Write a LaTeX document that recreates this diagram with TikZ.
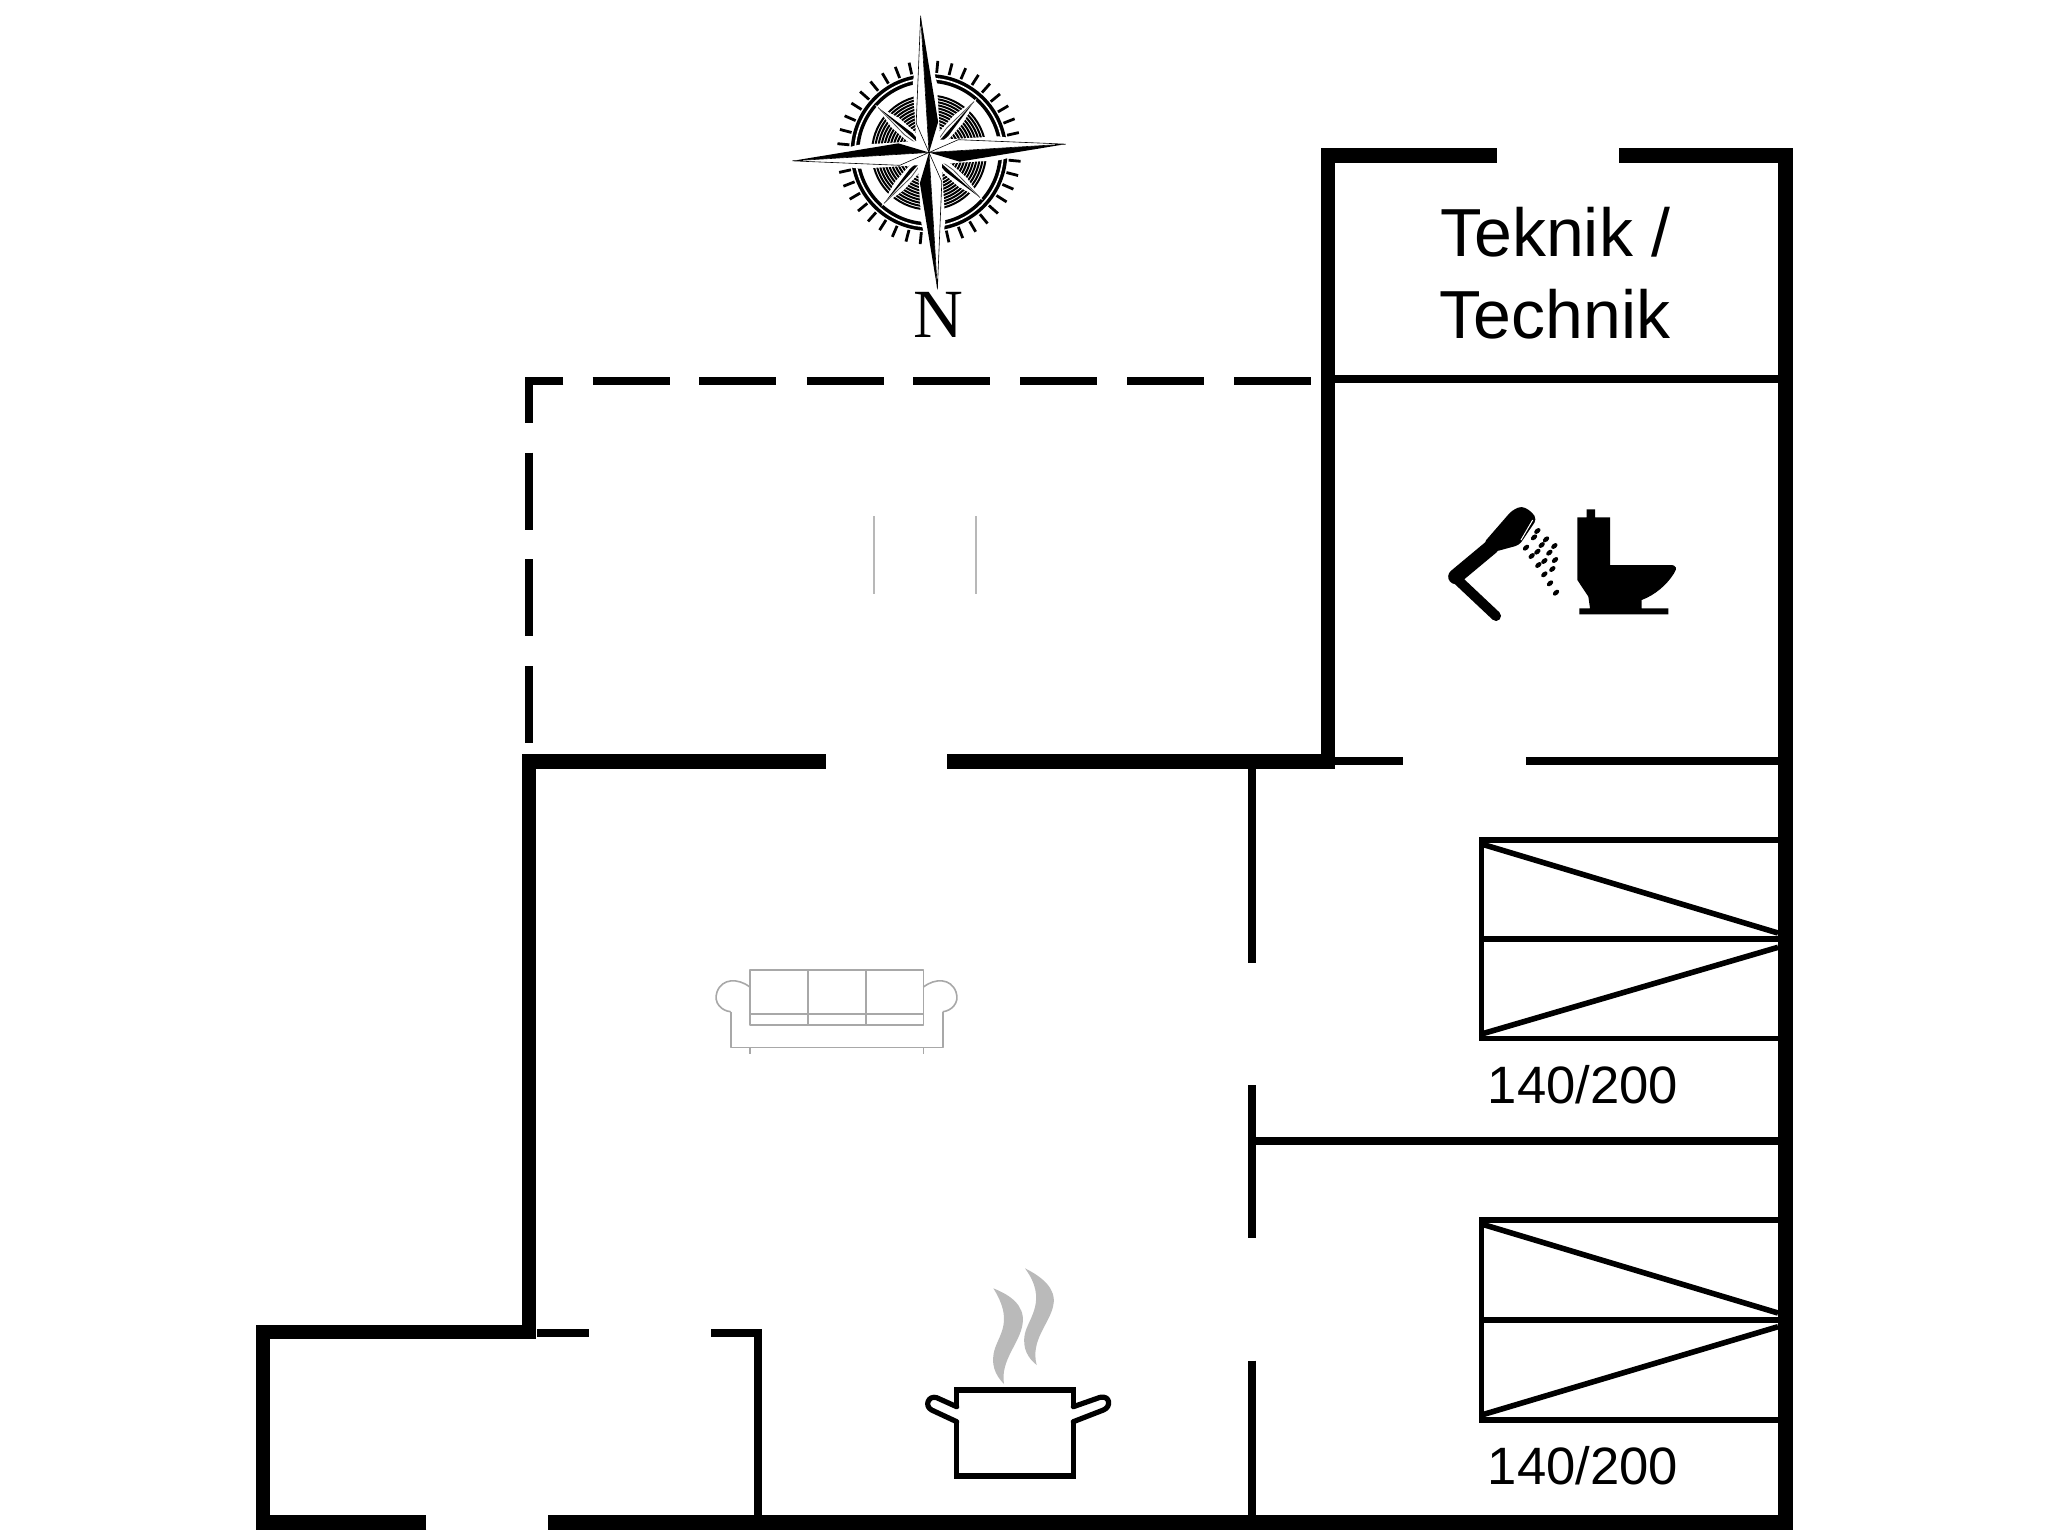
\documentclass[tikz,border=0pt]{standalone}
\usepackage{fontspec}
\setmainfont{Liberation Sans}
\newfontfamily\serifN{Liberation Serif}
\tikzset{
 wall/.style={line width=7.25pt,line cap=butt,line join=miter,black},
 thinwall/.style={line width=4pt,line cap=butt,line join=miter,black},
 dashwall/.style={line width=4pt,line cap=butt,line join=miter,black},
 bedline/.style={line width=2.8pt,line cap=butt,line join=miter,black},
 sofaline/.style={line width=0.8pt,draw=black!34,line join=round},
 faintline/.style={line width=1pt,draw=black!28},
 label/.style={inner sep=0pt,anchor=base,text=black},
 steam/.style={fill=black!27,draw=none},
 potline/.style={line width=2.6pt,black,line join=round,line cap=round},
 drop/.style={fill=black,draw=none},
}
\begin{document}
\begin{tikzpicture}[x=0.5pt,y=-0.5pt]
\useasboundingbox (0,0) rectangle (2048,1536);
\fill[white] (0,0) rectangle (2048,1536);

% thick walls
\draw[wall] (426.4,1522.5) -- (263,1522.5) -- (263,1332) -- (529,1332) -- (529,761.6) -- (826,761.6);
\draw[wall] (947.3,761.6) -- (1328,761.6) -- (1328,155.5) -- (1497.3,155.5);
\draw[wall] (1619,155.5) -- (1785.3,155.5) -- (1785.3,1522.5) -- (547.9,1522.5);

% dashed (open) part
\draw[dashwall] (563.3,381) -- (529,381) -- (529,423.3);
\foreach \a in {592.7,699.3,806.7,913.3,1020,1127,1234}{
  \draw[dashwall] (\a,381) -- (\a+77,381);
}
\foreach \a in {452.7,559.3,666}{
  \draw[dashwall] (529,\a) -- (529,\a+77);
}

% thin walls
\draw[thinwall] (1335,379) -- (1778,379);
\draw[thinwall] (1335,761) -- (1403.2,761);
\draw[thinwall] (1525.8,761) -- (1778,761);
\draw[thinwall] (1252,769) -- (1252,962.7);
\draw[thinwall] (1252,1085) -- (1252,1237.7);
\draw[thinwall] (1252,1360.7) -- (1252,1515);
\draw[thinwall] (1252,1141) -- (1778,1141);
\draw[thinwall] (537,1332.5) -- (589,1332.5);
\draw[thinwall] (711.4,1332.5) -- (757.5,1332.5) -- (757.5,1515);

% beds
\draw[bedline] (1778,840) -- (1481.5,840) -- (1481.5,1038.5) -- (1778,1038.5);
\draw[bedline] (1481.5,939) -- (1778,939);
\draw[bedline] (1481.5,844) -- (1778,933);
\draw[bedline] (1481.5,1034) -- (1778,947.3);
\draw[bedline] (1778,1220) -- (1481.5,1220) -- (1481.5,1420) -- (1778,1420);
\draw[bedline] (1481.5,1320) -- (1778,1320);
\draw[bedline] (1481.5,1224) -- (1778,1313);
\draw[bedline] (1481.5,1415) -- (1778,1326.7);

% labels
\node[label,font=\fontsize{34}{34}\selectfont] (tek1) at (1555.5,256) {Teknik /};
\node[label,font=\fontsize{34}{34}\selectfont] (tek2) at (1555,338.3) {Technik};
\node[label,font=\fontsize{26.3}{26.3}\selectfont] (bed1) at (1583,1103.5) {140/200};
\node[label,font=\fontsize{26.3}{26.3}\selectfont] (bed2) at (1583,1484.5) {140/200};
\node[label,font=\serifN\fontsize{34.5}{34.5}\selectfont] (north) at (938,337.3) {N};

% two faint lines
\draw[faintline] (873.7,516) -- (873.7,594);
\draw[faintline] (975.7,516) -- (975.7,594);

% sofa
\draw[sofaline] (750,970) rectangle (923.3,1025);
\draw[sofaline] (807.7,970) -- (807.7,1025);
\draw[sofaline] (865.7,970) -- (865.7,1025);
\draw[sofaline] (750,1014) -- (923.3,1014);
\draw[sofaline] (730.7,1011.7) -- (730.7,1047.3) -- (942.7,1047.3) -- (942.7,1011.7);
\draw[sofaline] (750,1047.3) -- (750,1054);
\draw[sofaline] (923.3,1047.3) -- (923.3,1054);
\draw[sofaline] (750,987) .. controls (738,978) and (722,978) .. (717,992) .. controls (713,1003) and (722,1011) .. (730.7,1011.7);
\draw[sofaline] (923.3,987) .. controls (935,978) and (951,978) .. (956,992) .. controls (960,1003) and (951,1011) .. (942.7,1011.7);

% compass rose
\begin{scope}[shift={(929,152.5)},rotate=3.5,x=0.5pt,y=0.5pt]
  \foreach \a in {0,9,...,351}{
    \draw[line width=1.4pt,black] (\a:80) -- (\a:92);
  }
  \draw[line width=4.4pt,black] (0,0) circle (74);
  \draw[line width=0.8pt,white] (0,0) circle (74);
  \foreach \r in {18,21,...,57}{
    \draw[line width=1pt,black] (0,0) circle (\r);
  }
  \foreach \a in {45,135,225,315}{
    \begin{scope}[rotate=\a]
      \fill[white] (-6,0) -- (-6,45) -- (0,72) -- (6,45) -- (6,0) -- cycle;
      \fill[black] (0,0) -- (0,68) -- (3.5,25) -- cycle;
      \draw[line width=0.4pt,black!70] (0,0) -- (-3,30) -- (0,68);
    \end{scope}
  }
  \foreach \a in {0,90,180,270}{
    \begin{scope}[rotate=\a]
      \fill[white] (-12,0) -- (-12,70) -- (-4,110) -- (4,110) -- (12,70) -- (12,0) -- cycle;
    \end{scope}
  }
  \foreach \a in {0,90,180,270}{
    \begin{scope}[rotate=\a]
      \fill[black] (0,0) -- (0,137) -- (11,30) -- cycle;
      \filldraw[fill=white,draw=black,line width=0.3pt] (0,0) -- (0,137) -- (-11,30) -- cycle;
    \end{scope}
  }
\end{scope}

% shower and toilet
\begin{scope}[shift={(1420,480)},x=0.16667pt,y=-0.16667pt]
  \draw[black,line width=5pt,line cap=round,line join=round] (228,408) -- (108,295);
  \draw[black,line width=7.5pt,line cap=round,line join=round] (107,290) -- (215,200);
  \fill[black,rounded corners=2pt] (190,190) -- (275,92) -- (305,78) -- (335,95) -- (350,118) -- (298,195) -- (225,215) -- cycle;
  \draw[white,line width=0.5pt] (303,180) -- (338,120);
  \foreach \x/\y in {352/153,378/178,403/198,342/172,365/195,388/218,318/203,335/228,352/215,373/243,405/240,355/255,397/267,373/283,390/310,408/338}{
    \fill[drop,rotate around={40:(\x,\y)}] (\x,\y) ellipse (11 and 7);
  }
  \fill[black] (500,88) -- (525,88) -- (525,112) -- (570,112) -- (570,255) -- (750,255)
    .. controls (770,255) and (772,265) .. (762,280)
    .. controls (740,315) and (705,345) .. (665,360) -- (665,385) -- (745,385) -- (745,403) -- (478,403) -- (478,385) -- (510,385) -- (505,350) -- (472,300) -- (472,112) -- (500,112) -- cycle;
\end{scope}

% pot
\begin{scope}[shift={(910,1260)},x=0.16667pt,y=-0.16667pt]
  \fill[steam] (250,85) .. controls (300,105) and (345,135) .. (338,190) .. controls (330,250) and (270,300) .. (282,372) .. controls (255,345) and (240,310) .. (255,265) .. controls (270,220) and (310,180) .. (250,85) -- cycle;
  \fill[steam] (345,25) .. controls (395,50) and (440,85) .. (430,135) .. controls (420,190) and (360,240) .. (380,315) .. controls (355,295) and (335,265) .. (345,220) .. controls (355,175) and (415,120) .. (345,25) -- cycle;
  \draw[potline,line join=miter,line cap=butt] (140,445) -- (140,390) -- (490,390) -- (490,445);
  \draw[potline,line join=miter,line cap=butt] (140,485) -- (140,648) -- (490,648) -- (490,485);
  \draw[potline] (140,440) -- (80,413) .. controls (55,405) and (42,438) .. (65,450) -- (140,485);
  \draw[potline] (490,440) -- (570,412) .. controls (600,405) and (605,440) .. (580,450) -- (490,485);
\end{scope}
\end{tikzpicture}
\end{document}
